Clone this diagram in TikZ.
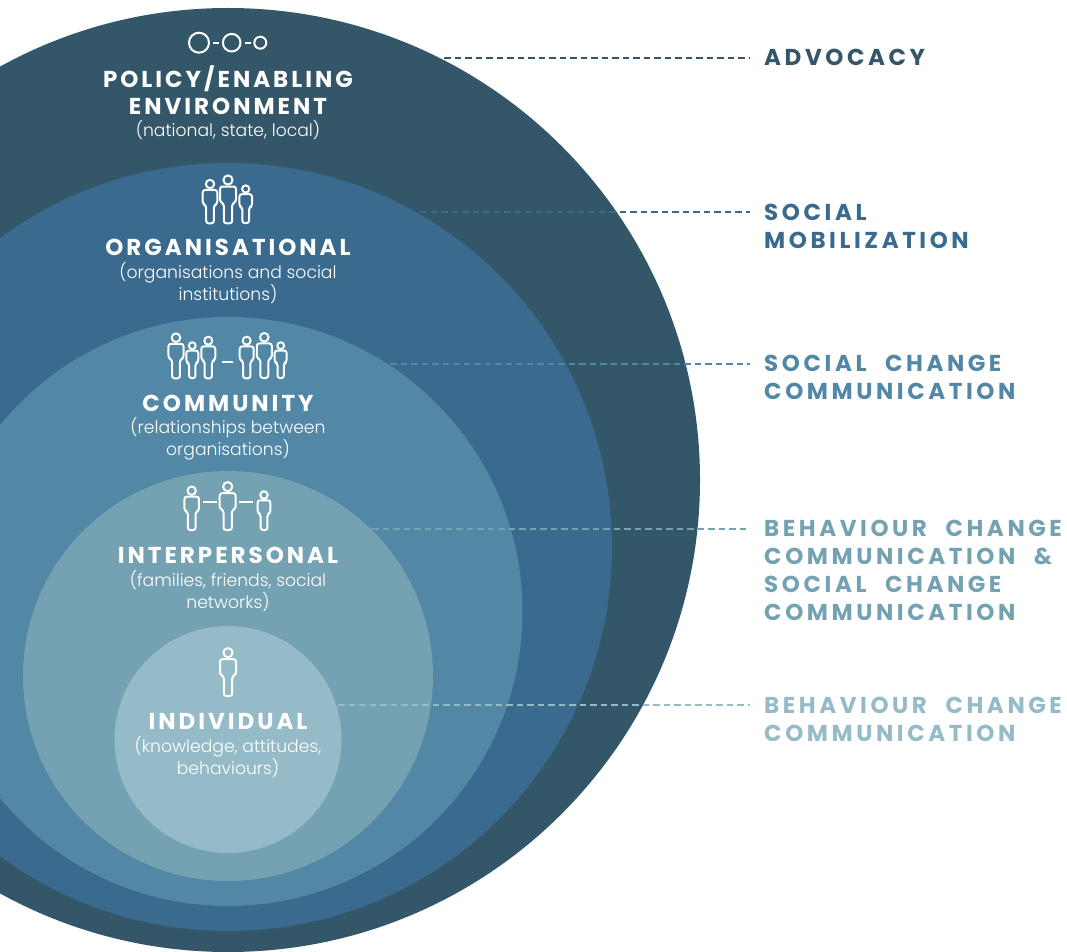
\documentclass[tikz,border=0pt]{standalone}
\usepackage{fontspec}
\setmainfont{Poppins Light}
\newfontfamily\headfont[LetterSpace=13]{Poppins Bold}
\newfontfamily\sidefont[LetterSpace=15.5,WordSpace=2.2]{Poppins Bold}
\usetikzlibrary{calc}
\definecolor{policycol}{HTML}{345669}
\definecolor{orgcol}{HTML}{3A6A8D}
\definecolor{commcol}{HTML}{5287A5}
\definecolor{intercol}{HTML}{74A2B3}
\definecolor{indivcol}{HTML}{94BBC7}
\tikzset{
    level/.style={circle, inner sep=0pt, minimum size=#1},
    title/.style={text=white, align=center, inner sep=0pt, font=\headfont\fontsize{23}{27}\selectfont},
    sub/.style={text=white, align=center, inner sep=0pt, font=\fontsize{17.2}{22}\selectfont},
    side/.style={anchor=north west, align=left, inner sep=0pt, font=\sidefont\fontsize{23}{28.3}\selectfont},
    link/.style={line width=2.3pt, dash pattern=on 6.5pt off 4pt, shorten >=14pt},
    icon/.style={draw=white, line width=2pt, line join=round},
    person/.pic={
        \draw [icon] (0,0) circle (4.6);
        \draw [icon, rounded corners=2.5pt] (-4.2,43.3) -- (-4.2,23.5) -- (-8,22) -- (-8,6.5) -- (8,6.5) -- (8,22) -- (4.2,23.5) -- (4.2,43.3) -- cycle;
    }
}
\begin{document}
\begin{tikzpicture}[x=1pt,y=-1pt]
    \useasboundingbox (0,0) rectangle (1067,952);
    \begin{scope}
        \clip (0,0) rectangle (1067,952);
        \node (policy) [level=944pt, fill=policycol] at (228,480) {};
        \node (org) [level=768pt, fill=orgcol] at (228,547) {};
        \node (comm) [level=589pt, fill=commcol] at (228,611.5) {};
        \node (inter) [level=410pt, fill=intercol] at (228,676) {};
        \node (indiv) [level=227pt, fill=indivcol] at (228,739.5) {};
    \end{scope}
    % circle texts
    \node (t1) [title] at (228,90) {POLICY/ENABLING\\ENVIRONMENT};
    \node (s1) [sub] at (228,130) {(national, state, local)};
    \node (t2) [title] at (228,247) {ORGANISATIONAL};
    \node (s2) [sub] at (228,283) {(organisations and social\\institutions)};
    \node (t3) [title] at (228,403) {COMMUNITY};
    \node (s3) [sub] at (228,439) {(relationships between\\organisations)};
    \node (t4) [title] at (228,555) {INTERPERSONAL};
    \node (s4) [sub] at (228,591) {(families, friends, social\\networks)};
    \node (t5) [title] at (228,721) {INDIVIDUAL};
    \node (s5) [sub] at (228,757) {(knowledge, attitudes,\\behaviours)};
    % icons
    \draw [icon] (199,42.7) circle (10) (231.7,42.7) circle (8.8) (260.3,42.7) circle (6);
    \draw [icon] (213.3,42.7) -- (219.3,42.7) (244.7,42.7) -- (250.7,42.7);
    \pic [scale=.91] at (210,184) {person};
    \pic at (228,180) {person};
    \pic [scale=.79] at (245.7,189) {person};
    \pic [scale=.94] at (176,337.7) {person};
    \pic [scale=.75] at (192.3,345.7) {person};
    \pic [scale=.87] at (208.3,340.7) {person};
    \draw [icon] (221.7,361.7) -- (233,361.7);
    \pic [scale=.87] at (246.7,340.7) {person};
    \pic [scale=.94] at (264.3,337.3) {person};
    \pic [scale=.75] at (280.7,345.7) {person};
    \pic [scale=.91] at (191.7,490.7) {person};
    \draw [icon] (203.3,501.7) -- (216.7,501.7);
    \pic at (227.7,486.7) {person};
    \draw [icon] (239.3,501.7) -- (252.7,501.7);
    \pic [scale=.81] at (264,495) {person};
    \pic at (228,652.7) {person};
    % side labels
    \node (adv) [side, text=policycol] at (764,48.5) {ADVOCACY};
    \node (mob) [side, text=orgcol] at (764,203.5) {SOCIAL\\MOBILIZATION};
    \node (scc) [side, text=commcol] at (764,354.5) {SOCIAL CHANGE\\COMMUNICATION};
    \node (both) [side, text=intercol] at (764,519.5) {BEHAVIOUR CHANGE\\COMMUNICATION \&\\SOCIAL CHANGE\\COMMUNICATION};
    \node (bcc) [side, text=indivcol] at (764,696.5) {BEHAVIOUR CHANGE\\COMMUNICATION};
    % dashed links
    \coordinate (c1) at (444,58);
    \coordinate (c2) at (420,212);
    \coordinate (c3) at (390,364);
    \coordinate (c4) at (372,529);
    \coordinate (c5) at (338,705);
    \draw [link, policycol] (c1) -- (c1 -| adv.west);
    \draw [link, orgcol] (c2) -- (c2 -| mob.west);
    \draw [link, commcol] (c3) -- (c3 -| scc.west);
    \draw [link, intercol] (c4) -- (c4 -| both.west);
    \draw [link, indivcol] (c5) -- (c5 -| bcc.west);
\end{tikzpicture}
\end{document}
